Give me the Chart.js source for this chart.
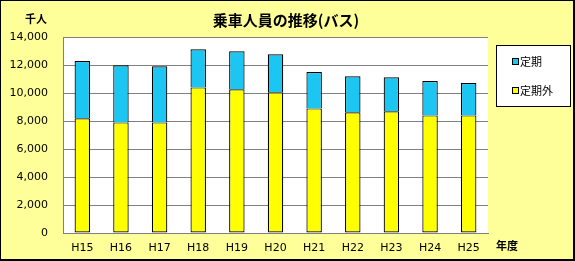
<!DOCTYPE html>
<html>
<head>
<meta charset="utf-8">
<script src="https://cdn.jsdelivr.net/npm/chart.js@4/dist/chart.umd.min.js"></script>
<style>
html,body{margin:0;padding:0;background:#FFFF99;}
canvas{display:block;}
</style>
</head>
<body>
<canvas id="c" width="575" height="261"></canvas>
<script>
const categories = ['H15','H16','H17','H18','H19','H20','H21','H22','H23','H24','H25'];
const teikigai = [8190, 7900, 7900, 10400, 10260, 10050, 8900, 8620, 8690, 8400, 8400];
const teiki = [4090, 4080, 4010, 2720, 2720, 2710, 2600, 2570, 2430, 2460, 2310];
const yTicks = [0, 2000, 4000, 6000, 8000, 10000, 12000, 14000];
const titleText = '乗車人員の推移(バス)';
const yUnit = '千人';
const xUnit = '年度';

const BLUE = '#1CC6F2';
const YELLOW = '#FFFF00';
const BG = '#FFFF99';

const decor = {
  id: 'decor',
  beforeDraw(chart) {
    const ctx = chart.ctx, a = chart.chartArea;
    ctx.save();
    ctx.fillStyle = BG;
    ctx.fillRect(0, 0, chart.width, chart.height);
    ctx.fillStyle = '#FFFFFF';
    ctx.fillRect(a.left, a.top, a.right - a.left, a.bottom - a.top);
    ctx.restore();
  },
  afterDraw(chart) {
    const ctx = chart.ctx;
    ctx.save();
    ctx.fillStyle = '#000';
    ctx.textBaseline = 'middle';
    ctx.textAlign = 'center';
    ctx.font = 'bold 15px "Noto Sans CJK JP"';
    ctx.fillText(titleText, 286, 20);
    ctx.font = 'bold 11px "Noto Sans CJK JP"';
    ctx.fillText(yUnit, 36, 19);
    ctx.fillText(xUnit, 507, 246);
    // legend box
    ctx.fillStyle = '#FFFFFF';
    ctx.fillRect(496, 45, 75, 62);
    ctx.strokeStyle = '#000';
    ctx.lineWidth = 1;
    ctx.strokeRect(496.5, 45.5, 74, 61);
    const items = [
      {label: chart.data.datasets[1].label, color: chart.data.datasets[1].backgroundColor, y: 62},
      {label: chart.data.datasets[0].label, color: chart.data.datasets[0].backgroundColor, y: 91}
    ];
    ctx.textAlign = 'left';
    ctx.font = '11px "Noto Sans CJK JP"';
    for (const it of items) {
      ctx.fillStyle = it.color;
      ctx.fillRect(513, it.y - 3, 5, 5);
      ctx.strokeStyle = '#000';
      ctx.strokeRect(512.5, it.y - 3.5, 6, 6);
      ctx.fillStyle = '#000';
      ctx.fillText(it.label, 520, it.y);
    }
    // outer border
    ctx.fillStyle = '#000';
    ctx.fillRect(0, 0, chart.width, 1);
    ctx.fillRect(0, 0, 1, chart.height);
    ctx.fillRect(chart.width - 2, 0, 2, chart.height);
    ctx.fillRect(0, chart.height - 2, chart.width, 2);
    ctx.restore();
  }
};

new Chart(document.getElementById('c'), {
  type: 'bar',
  data: {
    labels: categories,
    datasets: [
      {label: '定期外', data: teikigai, backgroundColor: YELLOW, borderColor: '#000', borderWidth: 1.2, borderSkipped: false},
      {label: '定期', data: teiki, backgroundColor: BLUE, borderColor: '#000', borderWidth: 1.2, borderSkipped: 'start'}
    ]
  },
  options: {
    responsive: false,
    animation: false,
    devicePixelRatio: 1,
    layout: {padding: {left: 0, right: 87, top: 37, bottom: 0}},
    plugins: {legend: {display: false}, title: {display: false}, tooltip: {enabled: false}},
    datasets: {bar: {categoryPercentage: 1, barPercentage: 0.4}},
    scales: {
      x: {
        stacked: true,
        grid: {display: false, drawTicks: false},
        border: {color: '#808080', width: 1},
        ticks: {color: '#000', font: {family: 'DejaVu Sans', size: 11}, padding: 9, maxRotation: 0},
        afterFit(s) { s.height = 28; }
      },
      y: {
        stacked: true,
        min: 0, max: 14000,
        afterBuildTicks(s) { s.ticks = yTicks.map(v => ({value: v})); },
        grid: {color: '#808080', drawTicks: false},
        border: {color: '#808080', width: 1},
        ticks: {color: '#000', font: {family: 'DejaVu Sans', size: 11}, padding: 15,
          callback: v => v.toLocaleString('en-US')},
        afterFit(s) { s.width = 63; }
      }
    }
  },
  plugins: [decor]
});
</script>
</body>
</html>
